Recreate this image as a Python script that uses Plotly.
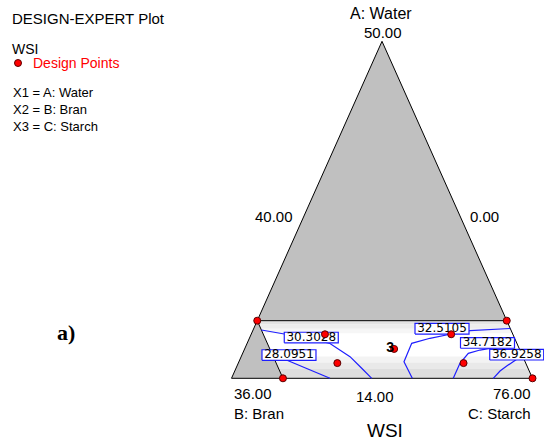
import plotly.graph_objects as go

W, H = 544, 446

# Pseudo-simplex that is drawn: lower bounds and common range of the components
LOW_WATER, LOW_BRAN, LOW_STARCH = 19.0, 5.0, 45.0
SPAN = 31.0
TOTAL = 100.0

# Constrained design region (corners, water / starch; bran = total - both)
region_water = [24.3, 24.3, 19.0, 19.0]
region_starch = [45.0, 70.7, 76.0, 50.3]

# Design points (water / starch)
design_water = [24.3, 24.3, 19.0, 19.0, 23.05, 20.4, 21.7, 23.05, 20.4]
design_starch = [45.0, 70.7, 76.0, 50.3, 52.6, 55.2, 60.4, 65.6, 68.2]
center_index = 6
center_replicates = 3

# WSI contour levels with their traced paths (water / starch)
contour_levels = [28.0951, 30.3028, 32.5105, 34.7182, 36.9258]
contour_water = [
    [21.24, 20.78, 20.13, 19.49, 19.0],
    [23.44, 23.08, 22.66, 22.20, 21.60, 20.99, 19.92, 19.0],
    [19.0, 20.53, 22.22, 22.68, 23.05, 23.38, 23.58],
    [19.0, 20.38, 21.30, 21.60, 21.76, 22.16, 22.52],
    [19.0, 19.67, 20.13, 20.64, 21.10],
]
contour_starch = [
    [48.06, 49.52, 51.49, 53.67, 55.14],
    [45.86, 48.47, 51.25, 53.54, 54.87, 56.21, 57.95, 59.44],
    [63.62, 62.00, 61.95, 63.60, 65.48, 67.37, 71.42],
    [67.84, 67.84, 68.24, 69.29, 70.24, 71.59, 72.48],
    [71.96, 72.32, 72.78, 73.38, 73.90],
]
# where each level's label sits
label_water = [21.14, 22.75, 23.56, 22.25, 21.17]
label_starch = [49.85, 51.34, 64.40, 69.74, 73.29]

# Texts printed around the triangle
apex_value, left_side_value, right_side_value = "50.00", "40.00", "0.00"
bran_value, base_mid_value, starch_value = "36.00", "14.00", "76.00"


def to_xy(water, starch):
    """Pseudo-component position of a blend in the plotting plane."""
    a = (water - LOW_WATER) / SPAN
    c = (starch - LOW_STARCH) / SPAN
    return c + a / 2.0, a


def to_xy_list(ws, ss):
    pts = [to_xy(w, s) for w, s in zip(ws, ss)]
    return [p[0] for p in pts], [p[1] for p in pts]


def path(xs, ys, close=True):
    d = "M " + " L ".join(f"{x:.5f},{y:.5f}" for x, y in zip(xs, ys))
    return d + (" Z" if close else "")


# plotting plane: x in [0, 1] along the base, y in [0, 1] from base to apex
X0_PX, X1_PX = 231.5, 532.5
Y0_PX, Y1_PX = 378.3, 41.3
sx = (X1_PX - X0_PX)
sy = (Y0_PX - Y1_PX)
x_range = [-X0_PX / sx, (W - X0_PX) / sx]
y_range = [(Y0_PX - H) / sy, Y0_PX / sy]

fig = go.Figure()
shapes = []

# full simplex
tri_w = [TOTAL - LOW_BRAN - LOW_STARCH, LOW_WATER, LOW_WATER]
tri_s = [LOW_STARCH, LOW_STARCH, TOTAL - LOW_WATER - LOW_BRAN]
tx, ty = to_xy_list(tri_w, tri_s)
shapes.append(dict(type="path", path=path(tx, ty), fillcolor="#c0c0c0",
                   line=dict(width=0), layer="below"))

# feasible region background
rx, ry = to_xy_list(region_water, region_starch)
shapes.append(dict(type="path", path=path(rx, ry), fillcolor="#ffffff",
                   line=dict(width=0), layer="below"))

# shading bands across the region
bran_hi = TOTAL - region_water[0] - region_starch[0]
bands = [
    (24.3, 23.95, "#e4e4e4"), (23.95, 23.55, "#ededed"), (23.55, 23.15, "#f6f6f6"),
    (21.0, 20.45, "#f3f3f3"), (20.45, 19.85, "#e9e9e9"), (19.85, 19.0, "#dedede"),
]
for w_top, w_bot, col in bands:
    bw = [w_top, w_top, w_bot, w_bot]
    bs = [TOTAL - w_top - bran_hi, TOTAL - w_top - LOW_BRAN,
          TOTAL - w_bot - LOW_BRAN, TOTAL - w_bot - bran_hi]
    bx, by = to_xy_list(bw, bs)
    shapes.append(dict(type="path", path=path(bx, by), fillcolor=col,
                       line=dict(width=0), layer="below"))

# outlines
shapes.append(dict(type="path", path=path(tx, ty), fillcolor="rgba(0,0,0,0)",
                   line=dict(color="#000000", width=1), layer="below"))
shapes.append(dict(type="path", path=path([rx[3], rx[0], rx[1]], [ry[3], ry[0], ry[1]], close=False),
                   line=dict(color="#000000", width=1), layer="below"))

# contour lines
for ws, ss in zip(contour_water, contour_starch):
    cx, cy = to_xy_list(ws, ss)
    fig.add_trace(go.Scatter(x=cx, y=cy, mode="lines", line=dict(color="#1e1eff", width=1.2),
                             hoverinfo="skip"))

# contour label boxes
hw, hh = 27.0 / sx, 5.3 / sy
for w, s in zip(label_water, label_starch):
    lx, ly = to_xy(w, s)
    fig.add_trace(go.Scatter(x=[lx - hw, lx + hw, lx + hw, lx - hw, lx - hw],
                             y=[ly - hh, ly - hh, ly + hh, ly + hh, ly - hh],
                             mode="lines", fill="toself", fillcolor="#ffffff",
                             line=dict(color="#1e1eff", width=1.2), hoverinfo="skip"))
lx, ly = to_xy_list(label_water, label_starch)
fig.add_trace(go.Scatter(x=lx, y=ly, mode="text", text=[f"{v:.4f}" for v in contour_levels],
                         textposition="middle center",
                         textfont=dict(family="DejaVu Sans", size=12, color="#000000"),
                         hoverinfo="skip"))

# design points
px_, py_ = to_xy_list(design_water, design_starch)
fig.add_trace(go.Scatter(x=px_, y=py_, mode="markers",
                         marker=dict(color="#ff0000", size=7, line=dict(color="#5a0000", width=1)),
                         hoverinfo="skip"))
fig.add_trace(go.Scatter(x=[px_[center_index]], y=[py_[center_index]], mode="text",
                         text=[f"<b>{center_replicates}</b>"], textposition="middle left",
                         textfont=dict(family="Liberation Sans", size=14, color="#000000"),
                         hoverinfo="skip"))


def note(text, x, y, size=14, xanchor="left", color="#000000", family="Liberation Sans"):
    return dict(text=text, x=x / W, y=1 - y / H, xref="paper", yref="paper",
                xanchor=xanchor, yanchor="middle", showarrow=False, align=xanchor if xanchor != "center" else "center",
                font=dict(family=family, size=size, color=color))


annotations = [
    note("DESIGN-EXPERT Plot", 10, 18, size=15),
    note("WSI", 10, 49),
    note("Design Points", 31, 63, color="#ff0000"),
    note("X1 = A: Water<br>X2 = B: Bran<br>X3 = C: Starch", 11, 109, size=13),
    note("A: Water", 381, 14, size=16, xanchor="center"),
    note(apex_value, 383, 33, size=15, xanchor="center"),
    note(left_side_value, 274, 216, size=15, xanchor="center"),
    note(right_side_value, 484, 216, size=15, xanchor="center"),
    note(f"{bran_value}<br>B: Bran", 232, 403, size=15),
    note(base_mid_value, 375, 396, size=15, xanchor="center"),
    note(f"{starch_value}<br>C: Starch", 533, 403, size=15, xanchor="right"),
    note("WSI", 385, 430, size=19, xanchor="center"),
    note("<b>a)</b>", 66, 332, size=22, xanchor="center", family="Liberation Serif"),
]
shapes.append(dict(type="circle", xref="paper", yref="paper",
                   x0=14.5 / W, x1=21.5 / W, y0=1 - 66.5 / H, y1=1 - 59.5 / H,
                   fillcolor="#ff0000", line=dict(color="#5a0000", width=1)))

fig.update_layout(
    width=W, height=H, autosize=False,
    margin=dict(l=0, r=0, t=0, b=0, pad=0),
    paper_bgcolor="#ffffff", plot_bgcolor="#ffffff",
    showlegend=False,
    xaxis=dict(range=x_range, visible=False, fixedrange=True),
    yaxis=dict(range=y_range, visible=False, fixedrange=True),
    shapes=shapes, annotations=annotations,
)

fig.write_html("out.html")
